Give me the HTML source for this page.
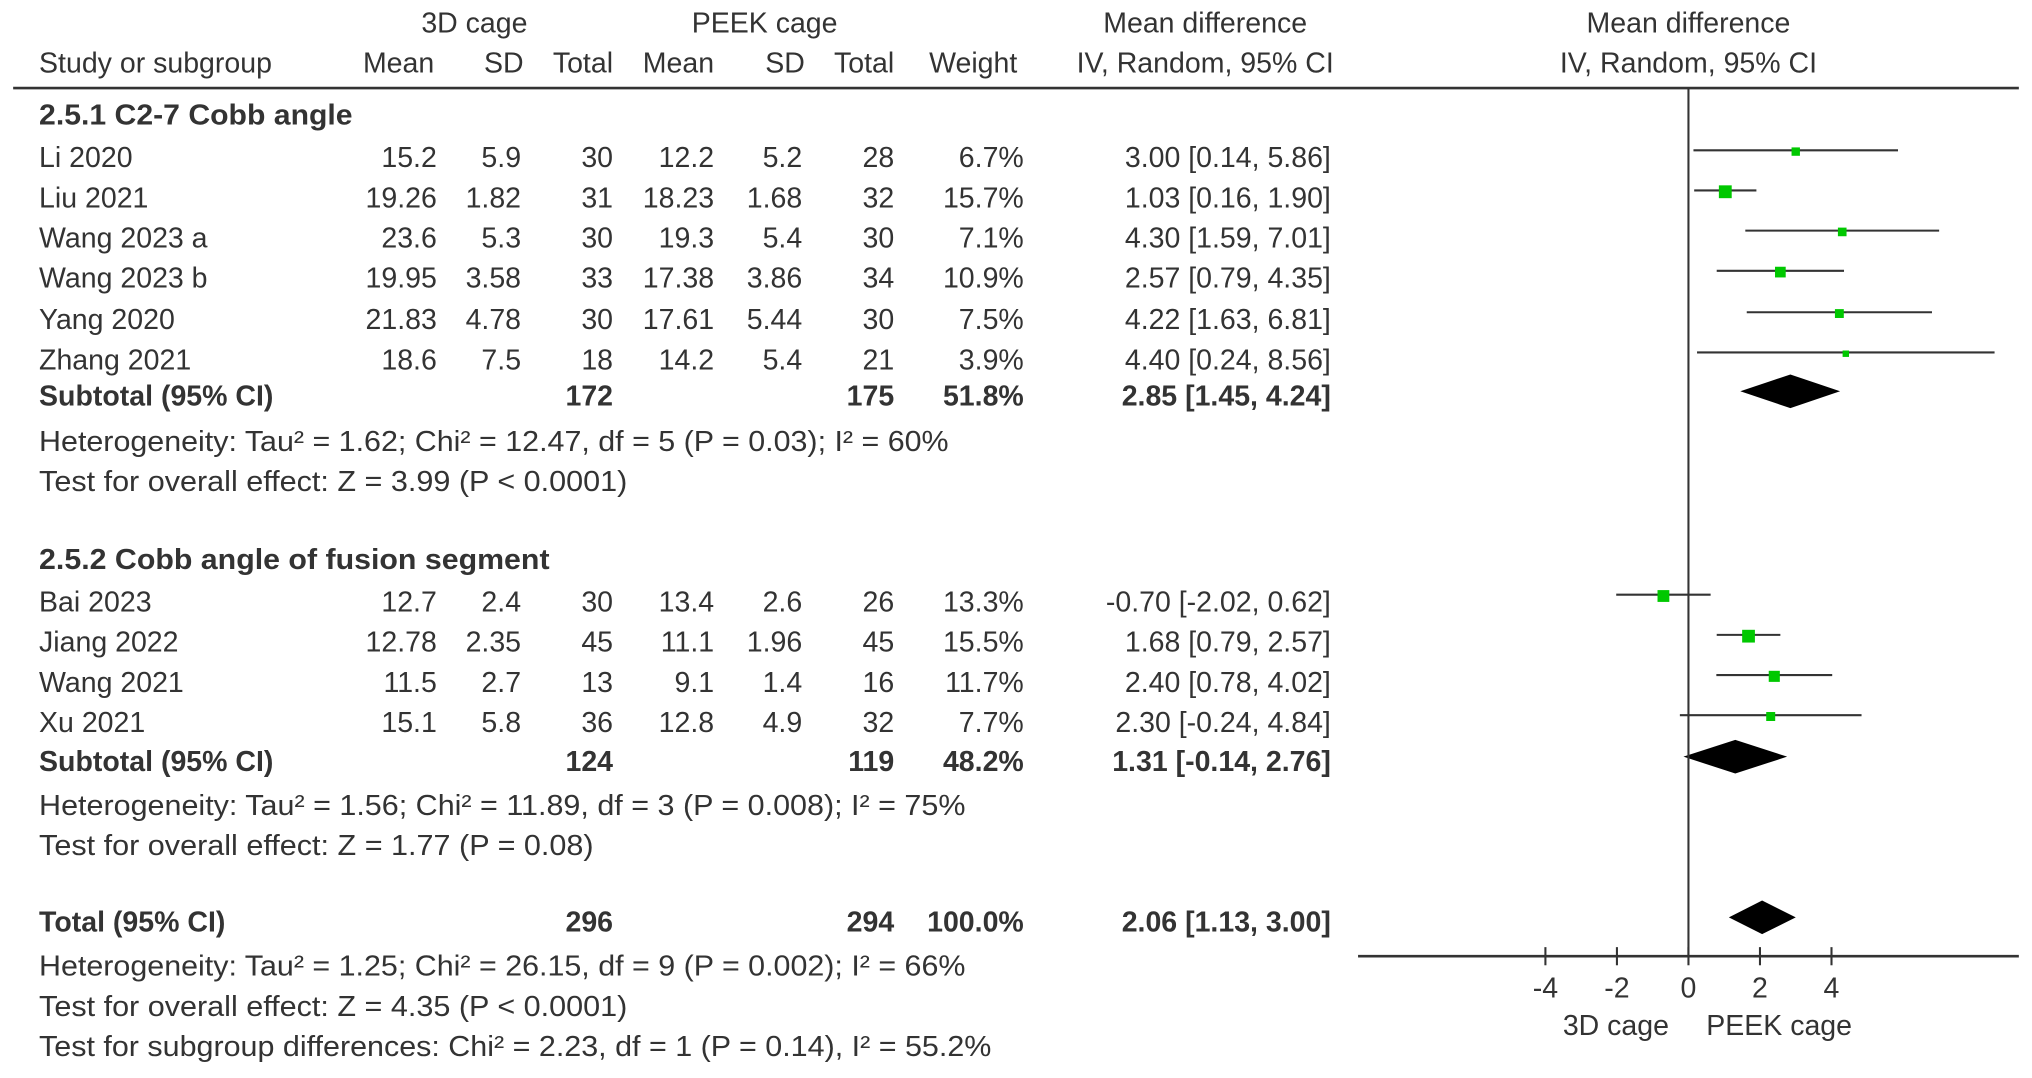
<!DOCTYPE html>
<html><head><meta charset="utf-8"><style>
html,body{margin:0;padding:0;background:#fff;}
svg{display:block;}
text{font-family:"Liberation Sans",Arial,sans-serif;font-size:22px;fill:#333;}
.b{font-weight:bold;}
</style></head><body>
<svg id="chart" width="2032" height="1078" viewBox="0 0 1568 832" xmlns="http://www.w3.org/2000/svg">
<g id="table">
<text x="366" y="25" text-anchor="middle">3D cage</text>
<text x="590" y="25" text-anchor="middle">PEEK cage</text>
<text x="930" y="25" text-anchor="middle">Mean difference</text>
<text x="1303" y="25" text-anchor="middle">Mean difference</text>
<text x="30" y="56">Study or subgroup</text>
<text x="335" y="56" text-anchor="end">Mean</text>
<text x="404" y="56" text-anchor="end">SD</text>
<text x="473" y="56" text-anchor="end">Total</text>
<text x="551" y="56" text-anchor="end">Mean</text>
<text x="621" y="56" text-anchor="end">SD</text>
<text x="690" y="56" text-anchor="end">Total</text>
<text x="785" y="56" text-anchor="end">Weight</text>
<text x="930" y="56" text-anchor="middle">IV, Random, 95% CI</text>
<text x="1303" y="56" text-anchor="middle">IV, Random, 95% CI</text>
<line x1="10" y1="68" x2="1558" y2="68" stroke="#333" stroke-width="2"/>
</g>
<g id="rows"></g>
<g id="plot"></g>
</svg>
<script>
const studies=["Li 2020","Liu 2021","Wang 2023 a","Wang 2023 b","Yang 2020","Zhang 2021","Bai 2023","Jiang 2022","Wang 2021","Xu 2021"];
const mean1=["15.2","19.26","23.6","19.95","21.83","18.6","12.7","12.78","11.5","15.1"];
const sd1=["5.9","1.82","5.3","3.58","4.78","7.5","2.4","2.35","2.7","5.8"];
const n1=["30","31","30","33","30","18","30","45","13","36"];
const mean2=["12.2","18.23","19.3","17.38","17.61","14.2","13.4","11.1","9.1","12.8"];
const sd2=["5.2","1.68","5.4","3.86","5.44","5.4","2.6","1.96","1.4","4.9"];
const n2=["28","32","30","34","30","21","26","45","16","32"];
const weights=[6.7,15.7,7.1,10.9,7.5,3.9,13.3,15.5,11.7,7.7];
const md=[3.00,1.03,4.30,2.57,4.22,4.40,-0.70,1.68,2.40,2.30];
const lo=[0.14,0.16,1.59,0.79,1.63,0.24,-2.02,0.79,0.78,-0.24];
const hi=[5.86,1.90,7.01,4.35,6.81,8.56,0.62,2.57,4.02,4.84];
const rowY=[122,153,184,215,247,278,465,496,527,558];
const sumLabels=["Subtotal (95% CI)","Subtotal (95% CI)","Total (95% CI)"];
const sumN1=["172","124","296"];
const sumN2=["175","119","294"];
const sumW=["51.8%","48.2%","100.0%"];
const sumMd=[2.85,1.31,2.06];
const sumLo=[1.45,-0.14,1.13];
const sumHi=[4.24,2.76,3.00];
const sumY=[306,588,712];
const ticks=[-4,-2,0,2,4];
const notes=[
 ["Heterogeneity: Tau² = 1.62; Chi² = 12.47, df = 5 (P = 0.03); I² = 60%",341,702],
 ["Test for overall effect: Z = 3.99 (P < 0.0001)",372,454],
 ["Heterogeneity: Tau² = 1.56; Chi² = 11.89, df = 3 (P = 0.008); I² = 75%",622,715],
 ["Test for overall effect: Z = 1.77 (P = 0.08)",653,428],
 ["Heterogeneity: Tau² = 1.25; Chi² = 26.15, df = 9 (P = 0.002); I² = 66%",746,715],
 ["Test for overall effect: Z = 4.35 (P < 0.0001)",777,454],
 ["Test for subgroup differences: Chi² = 2.23, df = 1 (P = 0.14), I² = 55.2%",808,735]
];
const NS="http://www.w3.org/2000/svg";
const rows=document.getElementById('rows');
const plot=document.getElementById('plot');
const X0=1303, PX=27.6;
function xs(v){return X0+v*PX;}
function t(p,x,y,s,anchor,cls,name,len){const e=document.createElementNS(NS,'text');e.setAttribute('x',x);e.setAttribute('y',y+7);if(anchor)e.setAttribute('text-anchor',anchor);if(cls)e.setAttribute('class',cls);if(len){e.setAttribute('textLength',len);e.setAttribute('lengthAdjust','spacingAndGlyphs');}e.textContent=s;


p.appendChild(e);return e;}
function f2(v){return v.toFixed(2);}
t(rows,30,89,"2.5.1 C2-7 Cobb angle",null,'b','subgroup-title-1',242);
t(rows,30,432,"2.5.2 Cobb angle of fusion segment",null,'b','subgroup-title-2',394);
studies.forEach((s,i)=>{const y=rowY[i];
 t(rows,30,y,s,null,null,'study-name');
 t(rows,337,y,mean1[i],'end',null,'mean-3d');
 t(rows,402,y,sd1[i],'end',null,'sd-3d');
 t(rows,473,y,n1[i],'end',null,'total-3d');
 t(rows,551,y,mean2[i],'end',null,'mean-peek');
 t(rows,619,y,sd2[i],'end',null,'sd-peek');
 t(rows,690,y,n2[i],'end',null,'total-peek');
 t(rows,790,y,weights[i].toFixed(1)+"%",'end',null,'weight');
 t(rows,1027,y,f2(md[i])+" ["+f2(lo[i])+", "+f2(hi[i])+"]",'end',null,'ci-text');
 const l=document.createElementNS(NS,'line');l.setAttribute('x1',xs(lo[i]));l.setAttribute('x2',xs(hi[i]));l.setAttribute('y1',y-6);l.setAttribute('y2',y-6);l.setAttribute('stroke','#333');l.setAttribute('stroke-width','1.6');
 
 
 plot.appendChild(l);
 const sz=2.5*Math.sqrt(weights[i]);const r=document.createElementNS(NS,'rect');r.setAttribute('x',xs(md[i])-sz/2);r.setAttribute('y',y-6-sz/2+1);r.setAttribute('width',sz);r.setAttribute('height',sz);r.setAttribute('fill','#00c800');
 
 
 plot.appendChild(r);
});
sumLabels.forEach((s,i)=>{const y=sumY[i];
 t(rows,30,y,s,null,'b','summary-label');
 t(rows,473,y,sumN1[i],'end','b','summary-total-3d');
 t(rows,690,y,sumN2[i],'end','b','summary-total-peek');
 t(rows,790,y,sumW[i],'end','b','summary-weight');
 t(rows,1027,y,f2(sumMd[i])+" ["+f2(sumLo[i])+", "+f2(sumHi[i])+"]",'end','b','summary-ci-text');
 const d=document.createElementNS(NS,'polygon');const cy=y-4;
 d.setAttribute('points',`${xs(sumLo[i])},${cy} ${xs(sumMd[i])},${cy-13} ${xs(sumHi[i])},${cy} ${xs(sumMd[i])},${cy+13}`);d.setAttribute('fill','#000');
 
 
 plot.appendChild(d);
});
notes.forEach(n=>{t(rows,30,n[1],n[0],null,null,'note-text',n[2]);});
const v=document.createElementNS(NS,'line');v.setAttribute('x1',X0);v.setAttribute('x2',X0);v.setAttribute('y1',68);v.setAttribute('y2',738);v.setAttribute('stroke','#333');v.setAttribute('stroke-width','1.6');


plot.appendChild(v);
const a=document.createElementNS(NS,'line');a.setAttribute('x1',1048);a.setAttribute('x2',1558);a.setAttribute('y1',738);a.setAttribute('y2',738);a.setAttribute('stroke','#333');a.setAttribute('stroke-width','2');


plot.appendChild(a);
ticks.forEach(k=>{const l=document.createElementNS(NS,'line');l.setAttribute('x1',xs(k));l.setAttribute('x2',xs(k));l.setAttribute('y1',731);l.setAttribute('y2',745);l.setAttribute('stroke','#333');l.setAttribute('stroke-width','1.6');
 
 
 plot.appendChild(l);
 t(plot,xs(k),763,String(k),'middle',null,'x-tick-label');});
t(plot,1247,792,"3D cage",'middle',null,'favours-3d-cage');
t(plot,1373,792,"PEEK cage",'middle',null,'favours-peek-cage');
</script>
</body></html>
